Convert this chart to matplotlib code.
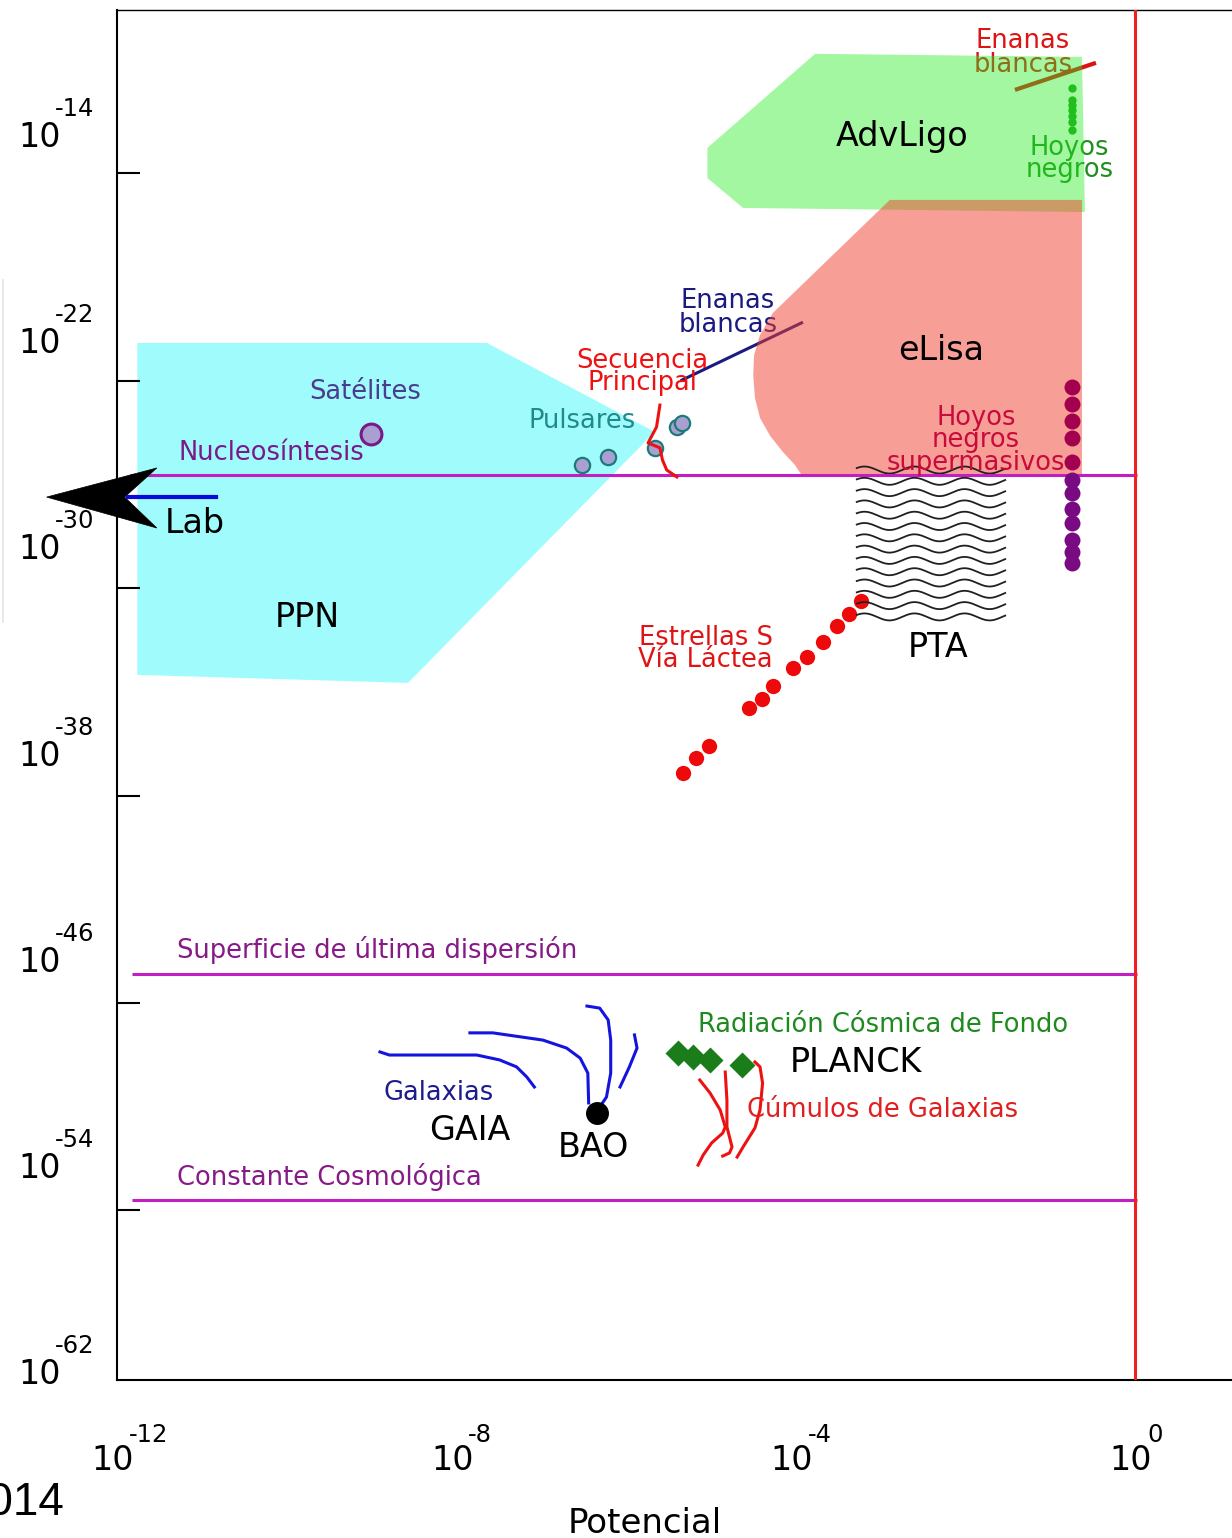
import numpy as np
import matplotlib
matplotlib.use('Agg')
import matplotlib.pyplot as plt
from matplotlib.patches import Polygon
from matplotlib.lines import Line2D
from matplotlib.ticker import NullLocator

W, H = 1232, 1538
OUT = 'out.png'

# every position below is log10 of the value: x = potencial, y = curvatura

# ── sensitivity regions ───────────────────────────────────────────────────────
ppn_x  = [-11.76, -7.64, -5.66, -8.57, -11.76]
ppn_y  = [-22.07, -22.07, -25.52, -35.26, -34.95]
ligo_x = [-3.77, -0.625, -0.59, -4.62, -5.04, -5.04]
ligo_y = [-10.85, -10.97, -16.99, -16.83, -15.67, -14.50]
lisa_x = [-2.89, -0.625, -0.625, -3.93, -4.01, -4.15, -4.30, -4.42, -4.48,
          -4.50, -4.49, -4.42, -4.27]
lisa_y = [-16.52, -16.52, -27.19, -27.19, -26.80, -26.30, -25.68, -24.98,
          -24.20, -23.31, -22.54, -21.76, -20.91]
pta_x  = [-3.28, -1.53]
pta_y  = [-27.00, -32.70]
pta_lines = 14

# ── reference lines ───────────────────────────────────────────────────────────
nucleo_y  = -27.19
cmb_y     = -46.56
lambda_y  = -55.33
nucleo_x  = [-11.85, 0.02]
ref_x     = [-11.82, 0.02]
unit_pot  = 0.0

lab_head_x = [-12.83, -11.53, -11.91, -11.53]
lab_head_y = [-28.05, -26.92, -28.05, -29.25]
lab_x      = [-11.875, -10.83]
lab_y      = -28.05

# ── objects ───────────────────────────────────────────────────────────────────
sat_x, sat_y = -9.01, -25.60
psr_x = [-6.52, -6.21, -5.66, -5.40, -5.34]
psr_y = [-26.80, -26.49, -26.14, -25.33, -25.17]
ms_x  = [-5.60, -5.64, -5.74, -5.60, -5.57, -5.52, -5.40]
ms_y  = [-24.48, -25.33, -25.95, -26.14, -26.61, -27.00, -27.27]
wd_x  = [-5.34, -3.93]
wd_y  = [-23.51, -21.29]
wd2_x = [-1.415, -0.46]
wd2_y = [-12.25, -11.20]
bh_x  = -0.74
bh_y  = [-12.18, -12.64, -12.83, -13.03, -13.26, -13.49, -13.80]
smbh_x = -0.74
smbh_in_y  = [-23.78, -24.44, -25.10, -25.76, -26.69]
smbh_out_y = [-27.39, -27.89, -28.51, -29.05, -29.71, -30.18, -30.61]
sstar_x = [-5.33, -5.17, -5.02, -4.55, -4.40, -4.27, -4.03, -3.87, -3.68,
           -3.51, -3.37, -3.23]
sstar_y = [-38.76, -38.17, -37.71, -36.23, -35.88, -35.38, -34.68, -34.25,
           -33.67, -33.05, -32.59, -32.08]

gal_lines = [
    ([-8.90, -8.79, -7.76, -7.49, -7.29, -7.17, -7.08],
     [-49.58, -49.70, -49.70, -49.89, -50.16, -50.55, -50.94]),
    ([-7.84, -7.57, -6.98, -6.70, -6.54, -6.45, -6.44],
     [-48.84, -48.84, -49.12, -49.43, -49.82, -50.40, -51.56]),
    ([-6.46, -6.31, -6.21, -6.18, -6.18, -6.23, -6.31],
     [-47.80, -47.88, -48.34, -49.12, -50.40, -51.33, -51.72]),
    ([-5.90, -5.87, -5.96, -6.07],
     [-48.92, -49.43, -50.16, -50.94]),
]
bao_x, bao_y = -6.34, -51.95
planck_x = [-5.39, -5.21, -5.01, -4.63]
planck_y = [-49.62, -49.78, -49.89, -50.09]
clu_lines = [
    ([-5.13, -5.01, -4.89, -4.83, -4.86, -4.99, -5.09, -5.15],
     [-50.67, -51.17, -51.83, -52.49, -52.73, -53.11, -53.58, -53.97]),
    ([-4.83, -4.81, -4.81, -4.75, -4.78, -4.86],
     [-50.36, -51.45, -52.49, -53.27, -53.50, -53.62]),
    ([-4.48, -4.42, -4.39, -4.42, -4.48, -4.62, -4.69],
     [-49.97, -50.16, -50.79, -51.83, -52.53, -53.27, -53.66]),
]

# ── axes ticks ────────────────────────────────────────────────────────────────
xtick_exp = ['-12', '-8', '-4', '0']
ytick_exp = ['-14', '-22', '-30', '-38', '-46', '-54', '-62']
ytick_marks = [-15.47, -23.54, -31.58, -39.65, -47.68, -55.71]


def P(a):
    return 10.0 ** np.asarray(a, dtype=float)


SMALL = 18.5
BIG = 24

fig = plt.figure(figsize=(W / 100, H / 100), dpi=100)
ax = fig.add_axes([117 / W, 1 - 1380 / H, (1240 - 117) / W, (1380 - 10) / H])
ax.set_xscale('log')
ax.set_yscale('log')
ax.set_xlim(P(-12.0), P(1.238))
ax.set_ylim(P(-62.31), P(-9.15))

ax.set_xticks([])
ax.xaxis.set_minor_locator(NullLocator())
ax.set_yticks(P(ytick_marks), labels=[''] * len(ytick_marks))
ax.yaxis.set_minor_locator(NullLocator())
ax.tick_params(axis='y', direction='in', length=16.5, width=1.5)
for s in ('left', 'bottom'):
    ax.spines[s].set_linewidth(1.5)
ax.spines['top'].set_linewidth(1.0)
ax.spines['right'].set_visible(False)

# tick labels written as 10 with a raised exponent
for e in ytick_exp:
    v = P(float(e))
    ax.annotate('10', (0, v), xycoords=('axes fraction', 'data'),
                xytext=(-77, -12), textcoords='offset pixels',
                ha='center', va='baseline', fontsize=24, annotation_clip=False)
    ax.annotate(e, (0, v), xycoords=('axes fraction', 'data'),
                xytext=(-62, 19), textcoords='offset pixels',
                ha='left', va='baseline', fontsize=17.5, annotation_clip=False)
for e in xtick_exp:
    v = P(float(e))
    ax.annotate('10', (v, 0), xycoords=('data', 'axes fraction'),
                xytext=(-4, -90), textcoords='offset pixels',
                ha='center', va='baseline', fontsize=24, annotation_clip=False)
    ax.annotate(e, (v, 0), xycoords=('data', 'axes fraction'),
                xytext=(12, -62), textcoords='offset pixels',
                ha='left', va='baseline', fontsize=17.5, annotation_clip=False)

ax.set_xlabel('Potencial', fontsize=24.5, va='baseline')
ax.xaxis.set_label_coords((645 - 117) / 1123, -(1533 - 1380) / 1370)

# ── regions ───────────────────────────────────────────────────────────────────
ax.add_patch(Polygon(np.column_stack([P(ppn_x), P(ppn_y)]), closed=True,
                     facecolor='#a0fcfc', edgecolor='none', zorder=1))

# things lying under the AdvLigo band
ax.plot(P(wd2_x), P(wd2_y), color='#dc1414', lw=3, solid_capstyle='butt', zorder=2.5)
ax.plot(np.full(len(bh_y), P(bh_x)), P(bh_y), 'o', ms=6, color='#1fa01f',
        mec='none', zorder=2.5)
ax.text(P(-1.32), P(-10.62), 'Enanas', ha='center', va='baseline',
        fontsize=SMALL, color='#dc1414', zorder=2.5)
ax.text(P(-1.32), P(-11.55), 'blancas', ha='center', va='baseline',
        fontsize=SMALL, color='#dc1414', zorder=2.5)
ax.text(P(-0.77), P(-14.77), 'Hoyos', ha='center', va='baseline',
        fontsize=SMALL, color='#1f8f1f', zorder=2.5)
ax.text(P(-0.77), P(-15.63), 'negros', ha='center', va='baseline',
        fontsize=SMALL, color='#1f8f1f', zorder=2.5)

ax.add_patch(Polygon(np.column_stack([P(ligo_x), P(ligo_y)]), closed=True,
                     facecolor='#24ec1d', alpha=0.42, edgecolor='none', zorder=3))

# white dwarfs (navy) partly under the eLisa region
ax.plot(P(wd_x), P(wd_y), color='#1a1a80', lw=2.2, zorder=3.2)
ax.text(P(-4.80), P(-20.71), 'Enanas', ha='center', va='baseline',
        fontsize=SMALL, color='#1a1a80', zorder=3.2)
ax.text(P(-4.80), P(-21.64), 'blancas', ha='center', va='baseline',
        fontsize=SMALL, color='#1a1a80', zorder=3.2)

ax.add_patch(Polygon(np.column_stack([P(lisa_x), P(lisa_y)]), closed=True,
                     facecolor='#f1412f', alpha=0.5, edgecolor='none', zorder=3.5))

# pulsar timing array drawn as a stack of waves
wx = np.linspace(pta_x[0], pta_x[1], 160)
period = 0.59
for base in np.linspace(pta_y[0], pta_y[1], pta_lines):
    wy = base + 0.136 * np.sin(2 * np.pi * (wx - pta_x[0]) / period + 0.6)
    ax.plot(P(wx), P(wy), color='#202020', lw=1.3, zorder=6)

# reference lines
ax.hlines(P(nucleo_y), P(nucleo_x[0]), P(nucleo_x[1]), color='#c21ec2', lw=2.2, zorder=7)
ax.hlines(P([cmb_y, lambda_y]), P(ref_x[0]), P(ref_x[1]), color='#c21ec2', lw=2.2, zorder=7)
ax.axvline(P(unit_pot), color='#ee2020', lw=2.2, zorder=7)

# laboratory arrow
ax.add_patch(Polygon(np.column_stack([P(lab_head_x), P(lab_head_y)]), closed=True,
                     facecolor='black', edgecolor='black', lw=0.5,
                     clip_on=False, zorder=8))
ax.plot(P(lab_x), [P(lab_y)] * 2, color='#0a0ad8', lw=3, clip_on=False, zorder=8)

# objects
ax.plot(P(sat_x), P(sat_y), 'o', ms=15, mfc='#a8a0d0', mec='#7a1a8a', mew=2.2, zorder=8)
ax.plot(P(psr_x), P(psr_y), 'o', ms=11, mfc='#a8a0d0', mec='#1e7a7a', mew=1.6, zorder=8)
ax.plot(P(ms_x), P(ms_y), color='#ee1111', lw=2.2, zorder=8)
ax.plot(np.full(len(smbh_in_y), P(smbh_x)), P(smbh_in_y), 'o', ms=11.5,
        color='#a3004f', mec='none', zorder=8)
ax.plot(np.full(len(smbh_out_y), P(smbh_x)), P(smbh_out_y), 'o', ms=11.5,
        color='#7a0a82', mec='none', zorder=8)
ax.plot(P(sstar_x), P(sstar_y), 'o', ms=11, color='#ee0a0a', mec='none', zorder=5)
for gx, gy in gal_lines:
    ax.plot(P(gx), P(gy), color='#1414e0', lw=2.2, zorder=8)
ax.plot(P(bao_x), P(bao_y), 'o', ms=15.5, color='black', zorder=9)
for cx, cy in clu_lines:
    ax.plot(P(cx), P(cy), color='#ee1111', lw=2.2, zorder=8)
ax.plot(P(planck_x), P(planck_y), 'D', ms=13.5, color='#1a7d1a', mec='none', zorder=9)

# ── labels ────────────────────────────────────────────────────────────────────
labels = [
    (-2.75, -14.42, 'AdvLigo', BIG, 'black', 'center'),
    (-2.28, -22.73, 'eLisa', BIG, 'black', 'center'),
    (-9.76, -33.09, 'PPN', BIG, 'black', 'center'),
    (-2.32, -34.25, 'PTA', BIG, 'black', 'center'),
    (-11.44, -29.44, 'Lab', BIG, 'black', 'left'),
    (-7.84, -53.00, 'GAIA', BIG, 'black', 'center'),
    (-6.38, -53.66, 'BAO', BIG, 'black', 'center'),
    (-3.29, -50.36, 'PLANCK', BIG, 'black', 'center'),
    (-9.07, -24.24, 'Satélites', SMALL, '#4a3d8f', 'center'),
    (-11.27, -26.61, 'Nucleosíntesis', SMALL, '#7a1a8a', 'left'),
    (-6.52, -25.37, 'Pulsares', SMALL, '#208b8b', 'center'),
    (-5.81, -23.04, 'Secuencia', SMALL, '#ee1111', 'center'),
    (-5.81, -23.89, 'Principal', SMALL, '#ee1111', 'center'),
    (-1.875, -25.25, 'Hoyos', SMALL, '#c80a3c', 'center'),
    (-1.875, -26.11, 'negros', SMALL, '#c80a3c', 'center'),
    (-1.875, -27.00, 'supermasivos', SMALL, '#c80a3c', 'center'),
    (-5.06, -33.79, 'Estrellas S', SMALL, '#e01414', 'center'),
    (-5.06, -34.64, 'Vía Láctea', SMALL, '#e01414', 'center'),
    (-11.29, -45.93, 'Superficie de última dispersión', SMALL, '#861a86', 'left'),
    (-11.29, -54.74, 'Constante Cosmológica', SMALL, '#861a86', 'left'),
    (-8.21, -51.45, 'Galaxias', SMALL, '#1c1c8c', 'center'),
    (-2.97, -48.81, 'Radiación Cósmica de Fondo', SMALL, '#1f8a1f', 'center'),
    (-2.97, -52.10, 'Cúmulos de Galaxias', SMALL, '#e02020', 'center'),
]
for lx, ly, s, fs, col, ha in labels:
    ax.text(P(lx), P(ly), s, ha=ha, va='baseline', fontsize=fs, color=col, zorder=10)

# figure furniture outside the axes
fig.text(65 / W, 1 - 1515 / H, '2014', ha='right', va='baseline', fontsize=33,
         family=['Liberation Sans Narrow', 'Liberation Sans', 'DejaVu Sans'])
fig.add_artist(Line2D([3 / W, 3 / W], [1 - 280 / H, 1 - 622 / H],
                      color='#e4e4e4', lw=1.2))

fig.savefig(OUT, dpi=100)
